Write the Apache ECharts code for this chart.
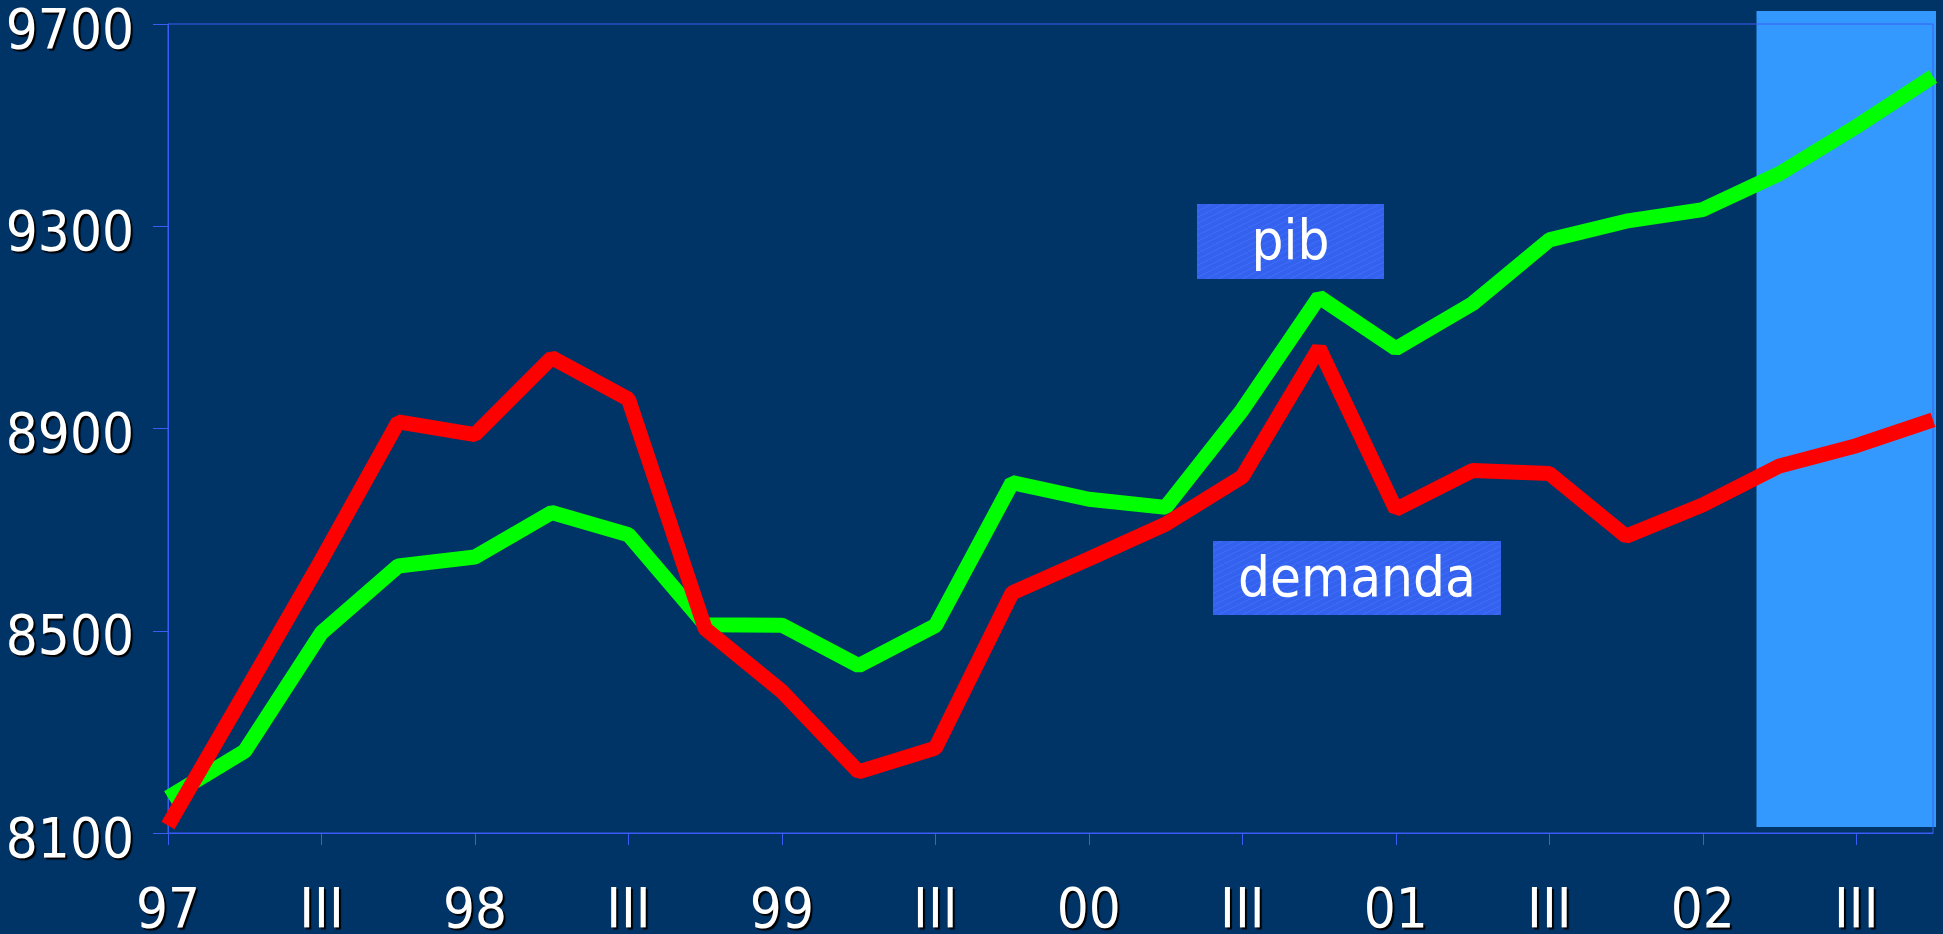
<!DOCTYPE html>
<html>
<head>
<meta charset="utf-8">
<script src="https://cdn.jsdelivr.net/npm/echarts@6/dist/echarts.min.js"></script>
<style>
    html, body {margin: 0; padding: 0; background: #003366;}
    #chart_1 {width: 1943px; height: 934px;}
</style>
</head>
<body>
<div id="chart_1"></div>
<script>
// trimestres 1997 - 2002
var quarters = ['97', 'II', 'III', 'IV', '98', 'II', 'III', 'IV', '99', 'II', 'III', 'IV',
    '00', 'II', 'III', 'IV', '01', 'II', 'III', 'IV', '02', 'II', 'III', 'IV'];
var pib = [8170, 8262, 8496, 8628, 8646, 8734, 8690, 8512, 8511, 8431, 8510, 8793,
    8760, 8744, 8937, 9160, 9058, 9147, 9273, 9310, 9333, 9404, 9497, 9596];
var demanda = [8115, 8377, 8640, 8913, 8888, 9040, 8958, 8504, 8380, 8221, 8268, 8575,
    8642, 8711, 8805, 9059, 8740, 8817, 8811, 8687, 8749, 8826, 8866, 8917];
var forecastFrom = 20.7; // la zona de prevision empieza aqui (en trimestres)

var fontName = '"DejaVu Sans Condensed", "DejaVu Sans", sans-serif';
var axisText = {
    color: '#ffffff',
    fontFamily: fontName,
    fontSize: 56,
    textShadowColor: '#000000',
    textShadowBlur: 1,
    textShadowOffsetX: 2,
    textShadowOffsetY: 2
};

var myChart = echarts.init(document.getElementById('chart_1'));
var option = {
    backgroundColor: '#003366',
    animation: false,
    grid: {
        left: 168,
        right: 10,
        top: 24,
        bottom: 101,
        outerBoundsMode: 'none',
        containLabel: false,
        show: true,
        borderColor: '#3a5cf5',
        borderWidth: 1
    },
    xAxis: {
        type: 'category',
        data: quarters,
        boundaryGap: false,
        axisLine: {lineStyle: {color: '#3a5cf5', width: 1}},
        axisTick: {interval: 1, length: 12, lineStyle: {color: '#3a5cf5'}},
        axisLabel: Object.assign({interval: 1, margin: 51}, axisText),
        splitLine: {show: false}
    },
    yAxis: {
        type: 'value',
        min: 8100,
        max: 9700,
        interval: 400,
        axisLine: {show: true, lineStyle: {color: '#3a5cf5', width: 1}},
        axisTick: {show: true, length: 15, lineStyle: {color: '#3a5cf5'}},
        axisLabel: Object.assign({
            margin: 34,
            verticalAlign: 'top',
            lineHeight: 18,
            formatter: function (v) { return String(v); }
        }, axisText),
        splitLine: {show: false}
    },
    series: [
        {
            name: 'pib',
            type: 'line',
            data: pib,
            symbol: 'none',
            lineStyle: {color: '#00ff00', width: 15, join: 'bevel', cap: 'butt'}
        },
        {
            name: 'demanda',
            type: 'line',
            data: demanda,
            symbol: 'none',
            lineStyle: {color: '#ff0000', width: 15, join: 'bevel', cap: 'butt'}
        }
    ]
};
myChart.setOption(option);

// rayado suave de las etiquetas
var tile = document.createElement('canvas');
tile.width = 12;
tile.height = 6;
var ctx = tile.getContext('2d');
ctx.fillStyle = '#3462ee';
ctx.fillRect(0, 0, 12, 6);
ctx.strokeStyle = '#3f70fa';
ctx.lineWidth = 1;
ctx.beginPath();
ctx.moveTo(0, 6);
ctx.lineTo(12, 0);
ctx.stroke();
var hatch = {image: tile, repeat: 'repeat'};

// zona de prevision
var xa = myChart.convertToPixel({xAxisIndex: 0}, 20);
var xb = myChart.convertToPixel({xAxisIndex: 0}, 21);
var xEnd = myChart.convertToPixel({xAxisIndex: 0}, 23);
var yTop = myChart.convertToPixel({yAxisIndex: 0}, 9700);
var yBot = myChart.convertToPixel({yAxisIndex: 0}, 8100);
var bandLeft = xa + (forecastFrom - 20) * (xb - xa);

function nameBox(text, left, top, w, h) {
    return [
        {type: 'rect', z: 5, shape: {x: left, y: top, width: w, height: h}, style: {fill: hatch}},
        {
            type: 'text', z: 6, x: left + w / 2, y: top + h / 2 + 3,
            style: {text: text, fill: '#ffffff', font: '56px ' + fontName, align: 'center', verticalAlign: 'middle'}
        }
    ];
}

myChart.setOption({
    graphic: [
        {
            type: 'rect', z: -1,
            shape: {x: bandLeft, y: yTop - 13, width: xEnd + 3 - bandLeft, height: yBot - 6 - (yTop - 13)},
            style: {fill: '#3399ff'}
        }
    ].concat(nameBox('pib', 1197, 204, 187, 75), nameBox('demanda', 1213, 541, 288, 74))
});
</script>
</body>
</html>
